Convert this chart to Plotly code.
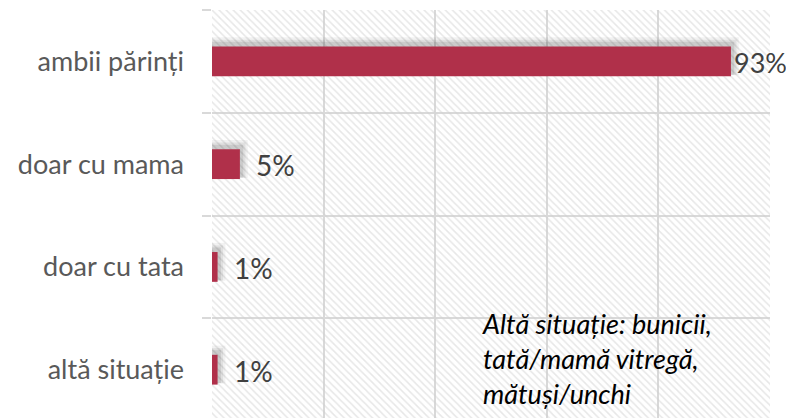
import plotly.graph_objects as go

categories = ["ambii părinți", "doar cu mama", "doar cu tata", "altă situație"]
values = [93, 5, 1, 1]
labels = ["93%", "5%", "1%", "1%"]
note = "Altă situație: bunicii,<br>tată/mamă vitregă,<br>mătuși/unchi"

pos = list(range(len(categories)))
BAR = "#b0304a"
GRID = "#d9d9d9"
FONT = "Lato"

fig = go.Figure()

# hatched background band per category
fig.add_trace(go.Bar(
    y=pos, x=[100] * len(pos), orientation="h", width=1.0,
    marker=dict(color="rgba(0,0,0,0)", line=dict(width=0),
                pattern=dict(shape="\\", size=5, solidity=0.3,
                             fgcolor="#cfcfcf", bgcolor="rgba(0,0,0,0)")),
    hoverinfo="skip", showlegend=False))

# soft shadow layers
for dx, dy, dw, a in [(1.4, -0.05, 0.08, 0.05), (1.0, -0.04, 0.05, 0.07), (0.6, -0.03, 0.03, 0.09)]:
    fig.add_trace(go.Bar(
        y=[p + dy for p in pos], x=[v + dx for v in values], orientation="h",
        width=0.29 + dw,
        marker=dict(color=f"rgba(0,0,0,{a})", line=dict(width=0)),
        hoverinfo="skip", showlegend=False))

# main bars
fig.add_trace(go.Bar(
    y=pos, x=values, orientation="h", width=0.29,
    marker=dict(color=BAR, line=dict(width=0)),
    showlegend=False))

for p, v, t in zip(pos, values, labels):
    fig.add_annotation(x=v, y=p, text=t, showarrow=False, xanchor="left",
                       xshift=1 if v > 50 else 14, yshift=-1,
                       font=dict(family=FONT, size=27 if v > 50 else 28, color="#404040"))

fig.add_annotation(x=48.0, y=2.89, text=note, showarrow=False, xanchor="left",
                   yanchor="middle", align="left",
                   font=dict(family=FONT, size=27, color="#000000", style="italic"))

# page body adds an 8px offset, so size/margins compensate for it
fig.update_layout(
    width=786, height=410,
    margin=dict(l=204, r=24, t=2, b=0),
    paper_bgcolor="white", plot_bgcolor="white",
    barmode="overlay",
    xaxis=dict(range=[0, 100], dtick=20, tick0=0, showgrid=True, gridcolor=GRID,
               gridwidth=2, zeroline=False, showticklabels=False, ticks=""),
    yaxis=dict(range=[3.47, -0.5], tickvals=pos, ticktext=categories,
               showgrid=False, zeroline=False, ticks="", ticklabelstandoff=27,
               tickfont=dict(family=FONT, size=27, color="#595959"),
               minor=dict(tickvals=[-0.5, 0.5, 1.5, 2.5], showgrid=True,
                          gridcolor=GRID, gridwidth=2, ticks="outside",
                          ticklen=9, tickcolor=GRID, tickwidth=2)),
)

fig.write_html("out.html")
